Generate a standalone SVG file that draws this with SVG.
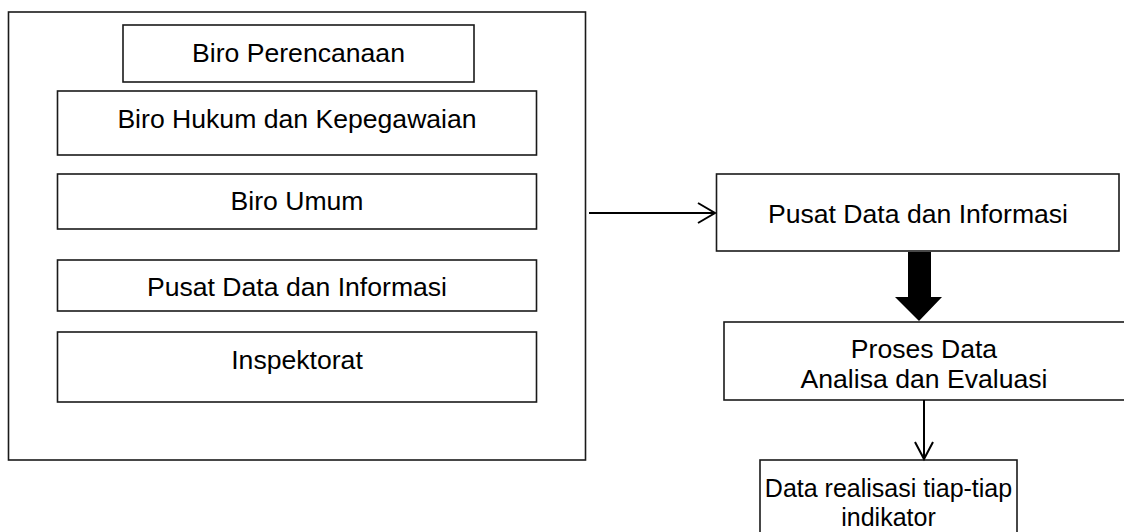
<svg xmlns="http://www.w3.org/2000/svg" width="1124" height="532" viewBox="0 0 1124 532">
  <style>
    .box { fill: #fff; stroke: #1a1a1a; stroke-width: 1.6; }
    .lbl { font-family: "Liberation Sans", Arial, sans-serif; font-size: 26.6px; fill: #000; text-anchor: middle; }
    .sm { font-size: 25px; }
    .line { fill: none; stroke: #000; stroke-width: 2; }
  </style>
  <rect width="1124" height="532" fill="#fff"/>

  <!-- container of units -->
  <g id="units">
    <rect class="box" x="8.5" y="12" width="577" height="448"/>
  </g>
  <g id="biro-perencanaan">
    <rect class="box" x="123" y="25" width="351" height="57"/>
    <text class="lbl" x="298.5" y="62">Biro Perencanaan</text>
  </g>
  <g id="biro-hukum">
    <rect class="box" x="57.5" y="91" width="479" height="64"/>
    <text class="lbl" x="297" y="128">Biro Hukum dan Kepegawaian</text>
  </g>
  <g id="biro-umum">
    <rect class="box" x="57.5" y="174" width="479" height="55"/>
    <text class="lbl" x="297" y="210">Biro Umum</text>
  </g>
  <g id="pusdatin-unit">
    <rect class="box" x="57.5" y="260" width="479" height="51"/>
    <text class="lbl" x="297" y="296">Pusat Data dan Informasi</text>
  </g>
  <g id="inspektorat">
    <rect class="box" x="57.5" y="332" width="479" height="70"/>
    <text class="lbl" x="297" y="369">Inspektorat</text>
  </g>

  <!-- process chain -->
  <g id="pusdatin">
    <rect class="box" x="716.5" y="174" width="402.5" height="77"/>
    <text class="lbl" x="918" y="223">Pusat Data dan Informasi</text>
  </g>
  <g id="proses">
    <rect class="box" x="724" y="322" width="410" height="78"/>
    <text class="lbl" x="924" y="358">Proses Data</text>
    <text class="lbl" x="924" y="388">Analisa dan Evaluasi</text>
  </g>
  <g id="realisasi">
    <rect class="box" x="760" y="460" width="257" height="90"/>
    <text class="lbl sm" x="888.5" y="497">Data realisasi tiap-tiap</text>
    <text class="lbl sm" x="888.5" y="526">indikator</text>
  </g>

  <g id="connectors">
    <line class="line" x1="589" y1="213" x2="715" y2="213"/>
    <polyline class="line" points="698,203 715,213 698,223"/>
    <polygon fill="#000" points="908,252 931,252 931,297 942,297 919,321 895,297 908,297"/>
    <line class="line" x1="924" y1="400" x2="924" y2="459"/>
    <polyline class="line" points="915,442 924,459 933,442"/>
  </g>
</svg>
